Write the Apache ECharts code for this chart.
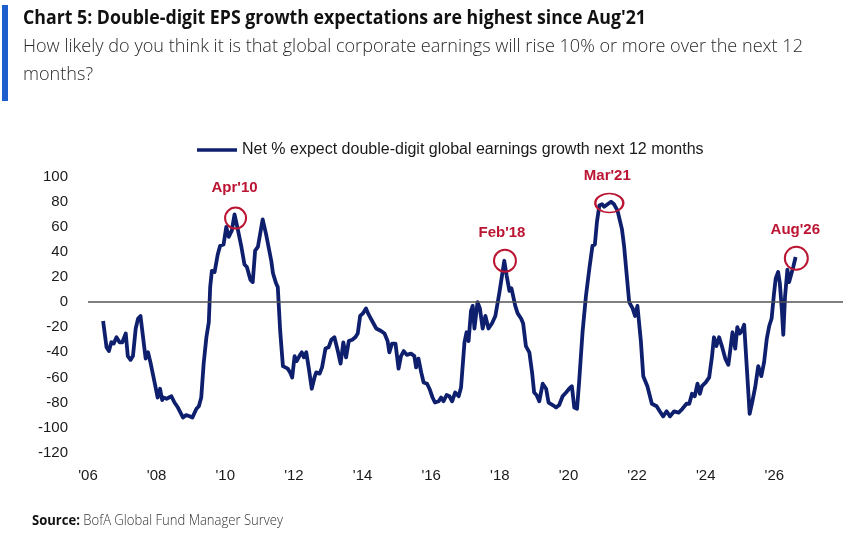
<!DOCTYPE html>
<html>
<head>
<meta charset="utf-8">
<script src="https://cdn.jsdelivr.net/npm/echarts@6/dist/echarts.min.js"></script>
<style>
  html, body { margin: 0; padding: 0; background: #fff; }
  #chart { width: 854px; height: 536px; }
</style>
</head>
<body>
<div id="chart"></div>
<script>
// 日期(年份小数)和净百分比
const dates = [
  2006.44, 2006.54, 2006.61, 2006.68, 2006.75, 2006.83, 2006.92, 2007.00, 2007.10, 2007.16,
  2007.24, 2007.31, 2007.39, 2007.46, 2007.53, 2007.60, 2007.68, 2007.75, 2007.82, 2007.94,
  2008.03, 2008.10, 2008.16, 2008.20, 2008.29, 2008.43, 2008.52, 2008.62, 2008.77, 2008.86,
  2008.96, 2009.04, 2009.16, 2009.23, 2009.30, 2009.37, 2009.45, 2009.52, 2009.56, 2009.61,
  2009.69, 2009.78, 2009.85, 2009.95, 2010.03, 2010.10, 2010.19, 2010.27, 2010.35, 2010.47,
  2010.56, 2010.63, 2010.73, 2010.80, 2010.87, 2010.95, 2011.09, 2011.19, 2011.34, 2011.39,
  2011.48, 2011.53, 2011.60, 2011.68, 2011.82, 2011.89, 2011.95, 2012.02, 2012.08, 2012.16,
  2012.23, 2012.29, 2012.36, 2012.43, 2012.52, 2012.60, 2012.65, 2012.75, 2012.82, 2012.92,
  2013.01, 2013.09, 2013.18, 2013.28, 2013.36, 2013.44, 2013.52, 2013.60, 2013.70, 2013.79,
  2013.86, 2013.93, 2014.01, 2014.10, 2014.18, 2014.30, 2014.40, 2014.54, 2014.64, 2014.73,
  2014.78, 2014.86, 2014.96, 2015.05, 2015.12, 2015.20, 2015.29, 2015.41, 2015.51, 2015.56,
  2015.63, 2015.71, 2015.78, 2015.88, 2015.95, 2016.04, 2016.11, 2016.22, 2016.29, 2016.36,
  2016.45, 2016.53, 2016.61, 2016.70, 2016.80, 2016.87, 2016.97, 2017.03, 2017.09, 2017.16,
  2017.21, 2017.26, 2017.35, 2017.42, 2017.50, 2017.58, 2017.67, 2017.77, 2017.87, 2017.99,
  2018.08, 2018.13, 2018.20, 2018.28, 2018.34, 2018.45, 2018.52, 2018.62, 2018.68, 2018.76,
  2018.86, 2018.94, 2019.00, 2019.07, 2019.15, 2019.25, 2019.35, 2019.42, 2019.54, 2019.64,
  2019.73, 2019.83, 2019.93, 2020.02, 2020.10, 2020.17, 2020.25, 2020.31, 2020.41, 2020.51,
  2020.61, 2020.70, 2020.77, 2020.83, 2020.90, 2020.98, 2021.04, 2021.14, 2021.24, 2021.33,
  2021.43, 2021.56, 2021.62, 2021.70, 2021.77, 2021.87, 2021.94, 2022.01, 2022.11, 2022.18,
  2022.30, 2022.43, 2022.57, 2022.66, 2022.76, 2022.86, 2022.96, 2023.08, 2023.21, 2023.32,
  2023.44, 2023.52, 2023.60, 2023.68, 2023.76, 2023.83, 2023.89, 2024.00, 2024.10, 2024.18,
  2024.24, 2024.31, 2024.39, 2024.47, 2024.57, 2024.66, 2024.73, 2024.78, 2024.86, 2024.92,
  2024.99, 2025.05, 2025.12, 2025.19, 2025.28, 2025.36, 2025.44, 2025.53, 2025.62, 2025.70,
  2025.78, 2025.85, 2025.92, 2025.99, 2026.04, 2026.11, 2026.16, 2026.22, 2026.26, 2026.31,
  2026.38, 2026.43, 2026.50, 2026.55, 2026.62
]
const netPct = [
  -15, -36, -39, -32, -33, -28, -32, -32, -25, -43,
  -46, -43, -21, -13, -11, -27, -45, -40, -48, -64,
  -76, -69, -78, -76, -77, -75, -80, -84, -92, -90,
  -91, -92, -85, -83, -76, -49, -28, -16, 12, 25,
  24, 38, 45, 46, 60, 52, 57, 70, 60, 44,
  30, 28, 18, 16, 41, 44, 66, 54, 33, 23,
  15, 12, -23, -51, -53, -56, -60, -43, -47, -43,
  -40, -44, -40, -52, -69, -60, -56, -57, -52, -37,
  -36, -30, -28, -39, -49, -32, -44, -31, -30, -28,
  -25, -11, -9, -5, -10, -16, -21, -23, -25, -31,
  -40, -33, -33, -53, -43, -39, -42, -41, -43, -52,
  -45, -56, -64, -65, -69, -76, -80, -79, -76, -79,
  -74, -75, -79, -72, -75, -68, -32, -24, -31, -7,
  -3, -21, 0, -5, -21, -11, -21, -17, -11, 8,
  24, 33, 21, 9, 11, -3, -9, -13, -17, -35,
  -40, -56, -72, -74, -79, -65, -69, -80, -82, -84,
  -82, -75, -72, -69, -67, -84, -85, -64, -24, 5,
  27, 45, 46, 64, 77, 78, 76, 78, 80, 78,
  73, 58, 45, 21, 0, -5, -11, -3, -31, -59,
  -67, -81, -83, -87, -91, -87, -91, -87, -88, -85,
  -81, -81, -73, -75, -65, -73, -67, -64, -60, -44,
  -28, -35, -28, -35, -45, -50, -35, -24, -37, -20,
  -25, -23, -18, -49, -89, -79, -68, -51, -59, -48,
  -29, -19, -13, 7, 19, 24, 15, -7, -26, 4,
  26, 16, 23, 28, 36
]

// 标注的高点
const peakLabels = ["Apr'10", "Feb'18", "Mar'21", "Aug'26"]
const peakDates = [2010.30, 2018.15, 2021.19, 2026.64]
const peakValues = [67, 33, 79, 35]

// 坐标轴刻度
const xTickYears = [2006, 2008, 2010, 2012, 2014, 2016, 2018, 2020, 2022, 2024, 2026]
const yTicks = [-120, -100, -80, -60, -40, -20, 0, 20, 40, 60, 80, 100]

const titleText = "Chart 5: Double-digit EPS growth expectations are highest since Aug'21"
const subLines = [
  'How likely do you think it is that global corporate earnings will rise 10% or more over the next 12',
  'months?'
]
const sourceBold = 'Source:'
const sourceText = ' BofA Global Fund Manager Survey'
const seriesName = 'Net % expect double-digit global earnings growth next 12 months'

const navy = '#0e1f6e'
const red = '#bb1533'
const openSans = "'Open Sans', 'DejaVu Sans', sans-serif"
const arial = "'Liberation Sans', Arial, sans-serif"

// 没有窄体字, 用横向缩放模拟
const measureCtx = document.createElement('canvas').getContext('2d')
function textWidth(font, text) {
  measureCtx.font = font
  return measureCtx.measureText(text).width
}

const titleFont = "bold 20px " + openSans
const subFont = "300 19px " + openSans
const srcBoldFont = "bold 14px " + openSans
const srcFont = "300 14px " + openSans

const titleScale = 623 / textWidth(titleFont, titleText)
const subScale = 780 / textWidth(subFont, subLines[0])
const srcScale = 251 / (textWidth(srcBoldFont, sourceBold) + textWidth(srcFont, sourceText))

// 圆圈大小与标签偏移(第三个是椭圆)
const circleSizes = [[21, 21], [22, 22], [28, 19], [23, 23]]
const labelOffsets = [[-1, -30], [-3, -28], [-2, -27], [-1, -28]]

const markData = peakLabels.map((name, i) => ({
  name,
  coord: [peakDates[i], peakValues[i]],
  symbolSize: circleSizes[i],
  label: { offset: labelOffsets[i] }
}))

const chart = echarts.init(document.getElementById('chart'), null, { renderer: 'canvas' })

chart.setOption({
  backgroundColor: '#fff',
  animation: false,
  textStyle: { fontFamily: arial },
  graphic: [
    {
      type: 'rect',
      shape: { x: 2, y: 5, width: 6, height: 96 },
      style: { fill: '#1d5fce' }
    },
    {
      type: 'text',
      x: 23, y: 18, scaleX: titleScale,
      style: { text: titleText, font: titleFont, fill: '#111', verticalAlign: 'middle' }
    },
    {
      type: 'text',
      x: 23, y: 47, scaleX: subScale,
      style: { text: subLines[0], font: subFont, fill: '#2a2a2a', verticalAlign: 'middle' }
    },
    {
      type: 'text',
      x: 23, y: 75, scaleX: subScale,
      style: { text: subLines[1], font: subFont, fill: '#2a2a2a', verticalAlign: 'middle' }
    },
    {
      type: 'text',
      x: 32, y: 521, scaleX: srcScale,
      style: {
        text: '{b|' + sourceBold + '}{n|' + sourceText + '}',
        verticalAlign: 'middle',
        rich: {
          b: { font: srcBoldFont, fill: '#111' },
          n: { font: srcFont, fill: '#333' }
        }
      }
    }
  ],
  legend: {
    left: 192,
    top: 137,
    icon: 'rect',
    itemWidth: 40,
    itemHeight: 3.5,
    itemStyle: { color: navy },
    textStyle: { fontFamily: arial, fontSize: 16, color: '#1a1a1a' },
    data: [seriesName]
  },
  grid: {
    left: 88,
    right: 11,
    top: 176.7,
    bottom: 83.3,
    containLabel: false,
    outerBoundsMode: 'none'
  },
  xAxis: {
    type: 'value',
    min: 2006,
    max: 2028,
    interval: 2,
    axisLine: { show: false },
    axisTick: { show: false },
    splitLine: { show: false },
    axisLabel: {
      margin: 16,
      fontSize: 15,
      color: '#1a1a1a',
      showMaxLabel: false,
      formatter: v => xTickYears.includes(v) ? "'" + String(v).slice(2) : ''
    }
  },
  yAxis: {
    type: 'value',
    min: yTicks[0],
    max: yTicks[yTicks.length - 1],
    interval: 20,
    axisLine: { show: false },
    axisTick: { show: false },
    splitLine: { show: false },
    axisLabel: { margin: 20, fontSize: 15, color: '#1a1a1a' }
  },
  series: [
    {
      name: seriesName,
      type: 'line',
      data: dates.map((d, i) => [d, netPct[i]]),
      symbol: 'none',
      lineStyle: { color: navy, width: 3.8, join: 'round' },
      itemStyle: { color: navy },
      markLine: {
        silent: true,
        symbol: 'none',
        label: { show: false },
        lineStyle: { color: '#555', width: 1.5, type: 'solid' },
        data: [{ yAxis: 0 }]
      },
      markPoint: {
        symbol: 'circle',
        silent: true,
        itemStyle: { color: 'rgba(0,0,0,0)', borderColor: red, borderWidth: 2 },
        label: {
          show: true,
          position: 'inside',
          formatter: '{b}',
          color: red,
          fontWeight: 'bold',
          fontSize: 15,
          fontFamily: arial
        },
        data: markData
      }
    }
  ]
})

window.addEventListener('resize', () => chart.resize())
</script>
</body>
</html>
